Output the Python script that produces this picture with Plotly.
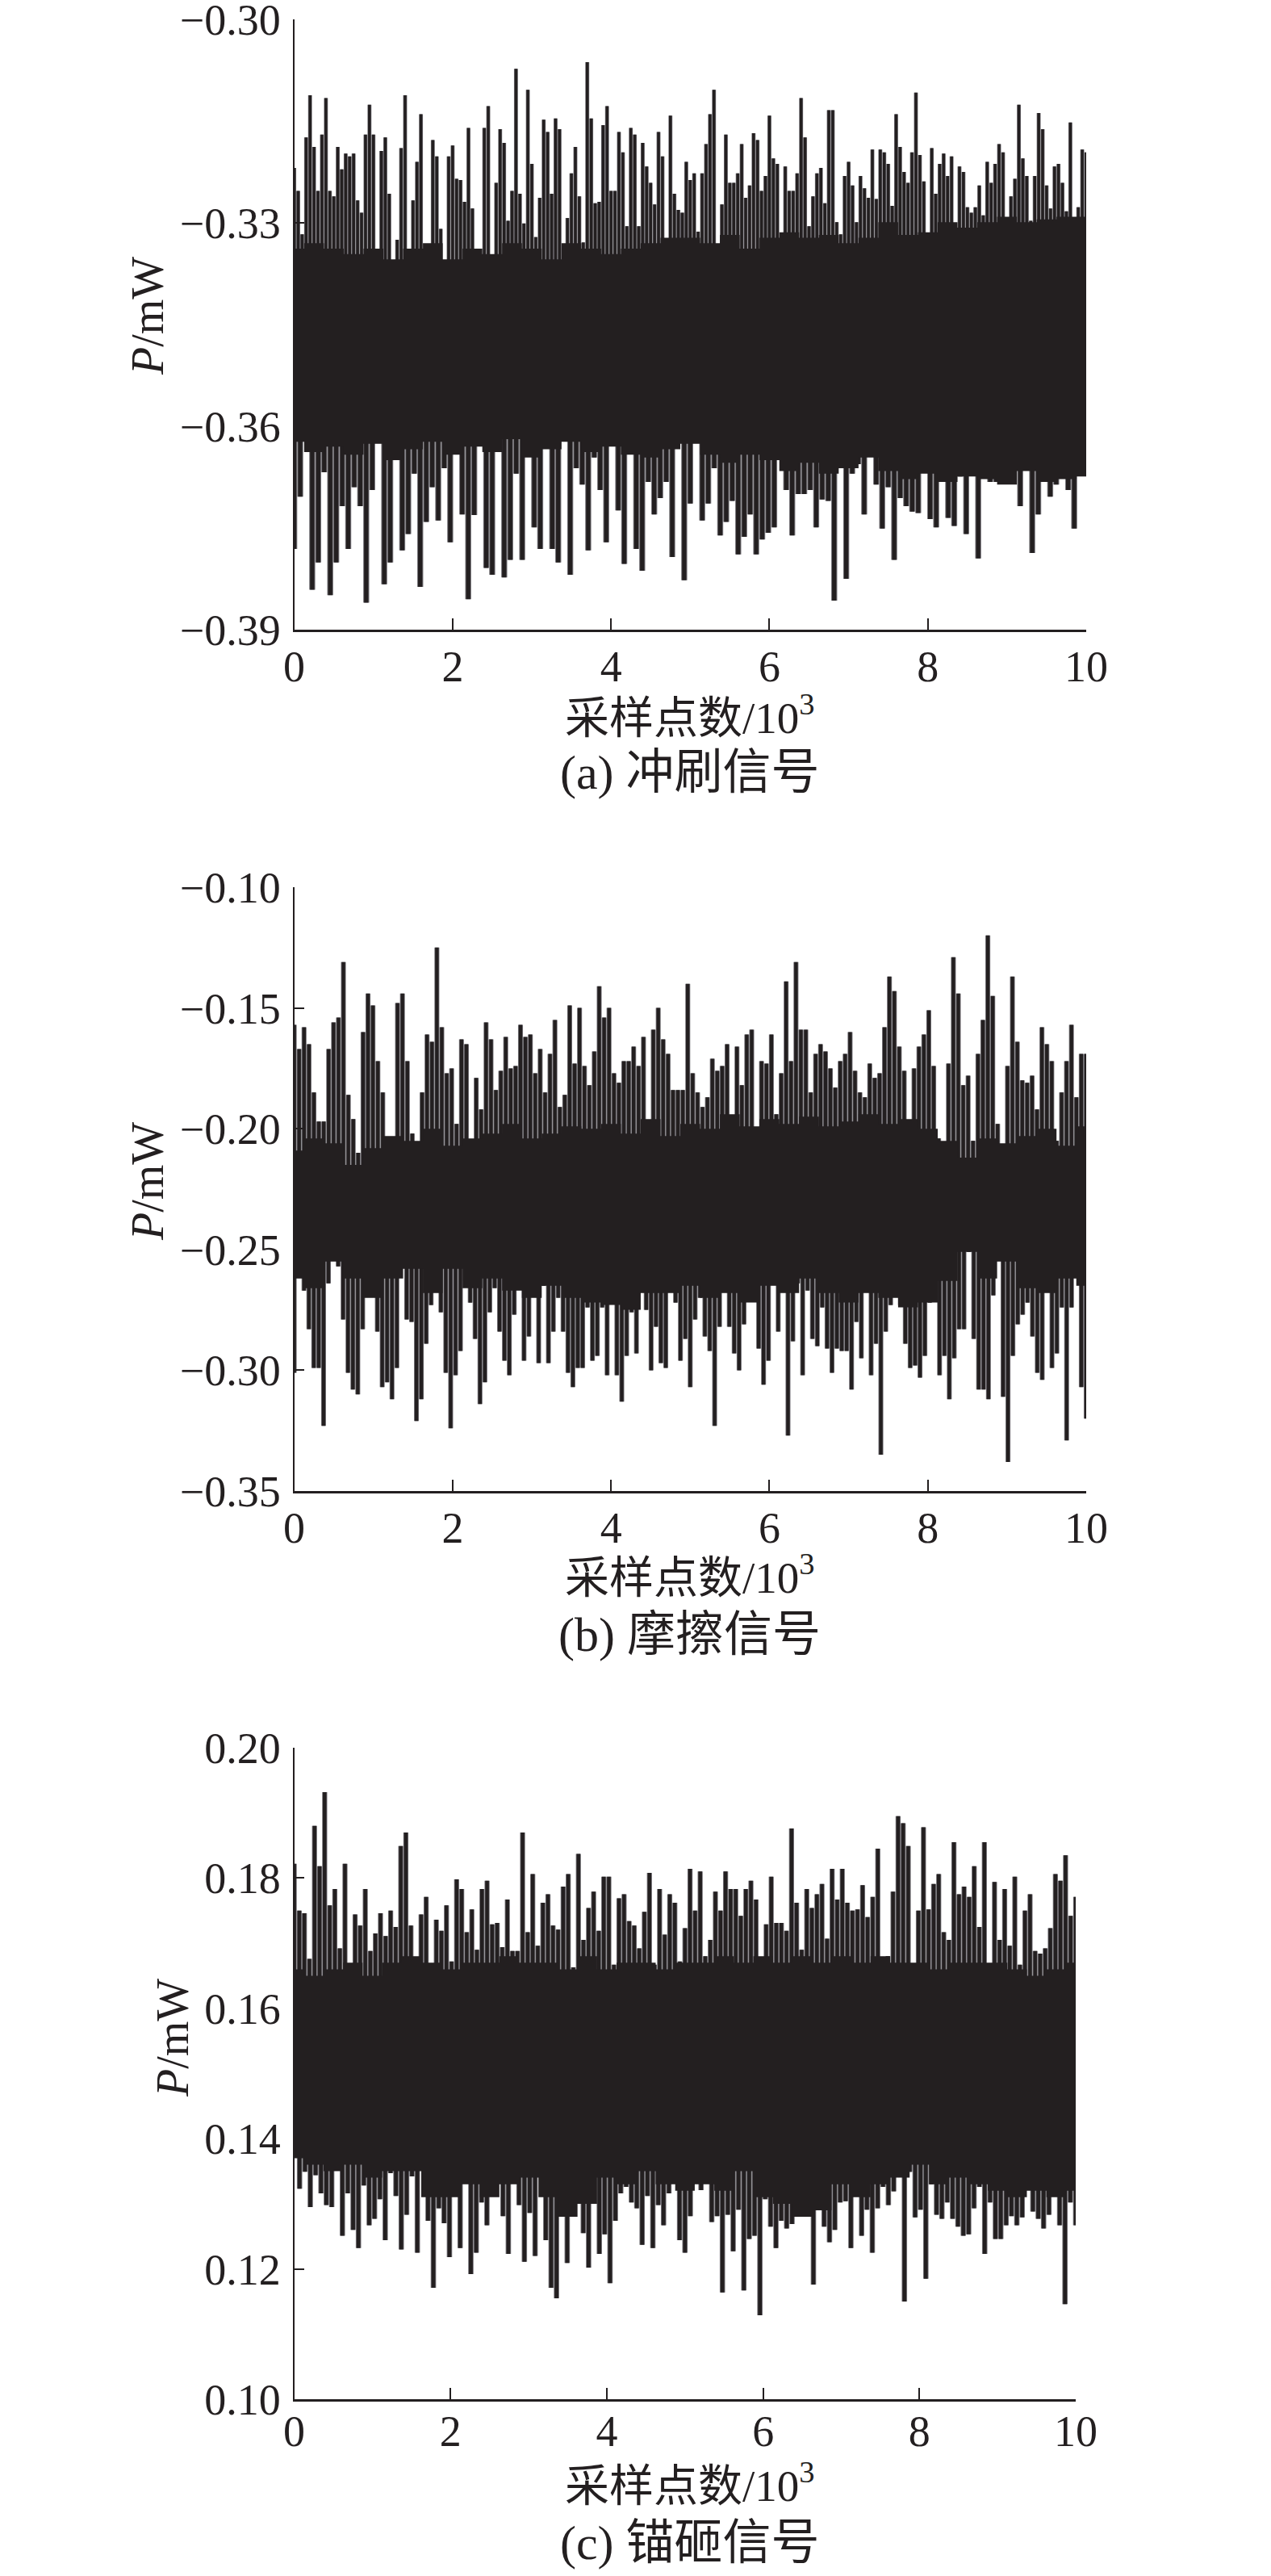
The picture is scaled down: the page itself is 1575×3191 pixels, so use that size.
import numpy as np
import plotly.graph_objects as go

# Peak readings (mW) per panel, left to right across 0-10 x 10^3 samples
a_upper = [-.3219,-.3253,-.3317,-.3174,-.3112,-.3188,-.3253,-.3170,-.3116,-.3253,-.3261,-.3188,-.3221,-.3198,-.3202,-.3198,-.3267,-.3285,-.3170,-.3126,-.3170,-.3356,-.3194,-.3174,-.3257,-.3400,-.3325,-.3190,-.3112,-.3344,-.3267,-.3210,-.3140,-.3364,-.3374,-.3178,-.3202,-.3309,-.3386,-.3202,-.3186,-.3235,-.3237,-.3269,-.3160,-.3279,-.3384,-.3356,-.3160,-.3128,-.3368,-.3241,-.3162,-.3182,-.3297,-.3253,-.3073,-.3257,-.3301,-.3104,-.3213,-.3321,-.3263,-.3148,-.3166,-.3257,-.3146,-.3162,-.3337,-.3293,-.3227,-.3188,-.3261,-.3329,-.3063,-.3146,-.3271,-.3269,-.3156,-.3128,-.3253,-.3253,-.3166,-.3196,-.3305,-.3160,-.3170,-.3305,-.3182,-.3217,-.3241,-.3273,
           -.3166,-.3202,-.3325,-.3142,-.3257,-.3281,-.3285,-.3210,-.3237,-.3227,-.3313,-.3227,-.3184,-.3140,-.3104,-.3350,-.3273,-.3170,-.3241,-.3241,-.3227,-.3184,-.3263,-.3245,-.3168,-.3178,-.3253,-.3231,-.3142,-.3205,-.3213,-.3325,-.3217,-.3253,-.3253,-.3227,-.3116,-.3174,-.3305,-.3261,-.3227,-.3219,-.3271,-.3134,-.3134,-.3299,-.3317,-.3231,-.3210,-.3245,-.3299,-.3231,-.3249,-.3263,-.3192,-.3265,-.3192,-.3196,-.3213,-.3275,-.3140,-.3188,-.3225,-.3241,-.3196,-.3108,-.3200,-.3239,-.3315,-.3190,-.3257,-.3213,-.3198,-.3231,-.3202,-.3317,-.3217,-.3225,-.3277,-.3285,-.3277,-.3245,-.3289,-.3210,-.3241,-.3213,-.3184,-.3196,-.3303,-.3261,-.3235,-.3126,-.3205,-.3231,-.3297,-.3231,-.3138,-.3162,-.3245,-.3279,-.3217,-.3213,-.3241,-.3283,-.3152,-.3299,-.3277,-.3192,-.3196]
a_lower = [-.3781,-.3704,-.3618,-.3841,-.3801,-.3668,-.3849,-.3801,-.3718,-.3781,-.3690,-.3718,-.3860,-.3694,-.3581,-.3833,-.3801,-.3636,-.3783,-.3759,-.3670,-.3837,-.3741,-.3690,-.3739,-.3662,-.3771,-.3624,-.3730,-.3855,-.3731,-.3587,-.3809,-.3819,-.3622,-.3823,-.3797,-.3670,-.3797,-.3624,-.3749,-.3781,-.3612,-.3781,-.3801,-.3618,-.3819,-.3662,-.3686,-.3783,-.3646,-.3694,-.3771,-.3583,-.3724,-.3803,-.3567,-.3781,-.3813,-.3682,-.3730,-.3706,-.3682,-.3793,-.3620,-.3827,-.3714,-.3608,-.3739,-.3714,-.3662,-.3761,-.3741,-.3710,-.3789,-.3763,-.3730,-.3789,-.3767,-.3757,-.3749,-.3559,-.3694,-.3761,-.3700,-.3700,-.3694,-.3749,-.3708,-.3710,-.3857,-.3626,-.3825,-.3670,-.3656,-.3730,-.3630,-.3686,-.3751,-.3690,-.3797,-.3706,-.3718,-.3726,-.3728,-.3634,-.3737,-.3749,-.3628,-.3735,-.3747,-.3674,-.3759,-.3654,-.3795,-.3591,-.3682,-.3682,-.3644,-.3670,-.3599,-.3718,-.3628,-.3787,-.3730,-.3658,-.3704,-.3686,-.3656,-.3694,-.3751,-.3559,-.3660]
a_core_top = [-.3338,-.3330,-.3338,-.3346,-.3338,-.3354,-.3338,-.3330,-.3354,-.3338,-.3346,-.3330,-.3338,-.3354,-.3330,-.3338,-.3346,-.3338,-.3330,-.3322,-.3322,-.3330,-.3318,-.3338,-.3322,-.3314,-.3322,-.3318,-.3330,-.3322,-.3299,-.3318,-.3314,-.3299,-.3307,-.3299,-.3291,-.3299,-.3295,-.3291,-.3291]
a_core_bottom = [-.3623,-.3638,-.3630,-.3642,-.3626,-.3650,-.3634,-.3623,-.3642,-.3630,-.3638,-.3619,-.3646,-.3634,-.3623,-.3638,-.3630,-.3642,-.3646,-.3634,-.3626,-.3642,-.3654,-.3642,-.3650,-.3666,-.3654,-.3670,-.3662,-.3646,-.3666,-.3678,-.3670,-.3682,-.3674,-.3678,-.3686,-.3666,-.3682,-.3678,-.3674]

b_upper = [-.157,-.167,-.158,-.165,-.185,-.197,-.197,-.167,-.156,-.154,-.131,-.186,-.196,-.210,-.160,-.144,-.149,-.172,-.185,-.225,-.204,-.148,-.144,-.172,-.202,-.218,-.185,-.161,-.164,-.125,-.158,-.177,-.175,-.198,-.163,-.165,-.205,-.179,-.192,-.156,-.163,-.184,-.176,-.162,-.175,-.174,-.157,-.162,-.161,-.177,-.167,-.185,-.169,-.155,-.191,-.186,-.149,-.173,-.150,-.174,-.182,-.168,-.141,-.154,-.150,-.177,-.181,-.172,-.172,-.166,-.174,-.162,-.210,-.159,-.150,-.163,-.169,-.184,-.184,-.184,-.140,-.177,-.185,-.191,-.187,-.171,-.176,-.174,-.165,-.205,-.166,-.182,-.161,-.159,-.205,-.172,-.173,-.161,-.194,-.177,-.139,-.172,-.131,-.159,-.159,-.185,-.169,-.165,-.168,-.175,-.183,-.172,-.169,-.160,-.176,-.185,-.187,-.173,-.179,-.177,-.158,-.137,-.143,-.166,-.176,-.197,-.175,-.166,-.161,-.151,-.174,-.204,-.217,-.173,-.129,-.144,-.182,-.178,-.205,-.169,-.155,-.120,-.145,-.198,-.208,-.174,-.137,-.164,-.180,-.181,-.178,-.192,-.158,-.165,-.172,-.205,-.185,-.172,-.157,-.187,-.169,-.169]
b_lower = [-.301,-.257,-.267,-.283,-.299,-.299,-.323,-.264,-.250,-.257,-.279,-.301,-.308,-.310,-.283,-.266,-.267,-.284,-.307,-.305,-.312,-.299,-.256,-.279,-.280,-.321,-.312,-.289,-.273,-.252,-.276,-.301,-.324,-.302,-.292,-.263,-.272,-.287,-.314,-.305,-.276,-.266,-.284,-.296,-.302,-.277,-.259,-.296,-.286,-.267,-.297,-.265,-.297,-.284,-.270,-.284,-.301,-.307,-.299,-.299,-.274,-.296,-.294,-.274,-.302,-.250,-.302,-.313,-.294,-.276,-.293,-.266,-.275,-.300,-.282,-.297,-.299,-.259,-.272,-.296,-.287,-.307,-.279,-.270,-.286,-.292,-.323,-.282,-.267,-.282,-.293,-.300,-.281,-.263,-.271,-.291,-.306,-.296,-.263,-.284,-.258,-.327,-.288,-.264,-.302,-.267,-.287,-.290,-.274,-.291,-.301,-.291,-.292,-.292,-.308,-.280,-.295,-.260,-.302,-.289,-.335,-.284,-.273,-.263,-.273,-.289,-.299,-.298,-.303,-.294,-.272,-.256,-.302,-.294,-.312,-.295,-.283,-.283,-.251,-.287,-.308,-.308,-.312,-.269,-.252,-.311,-.338,-.294,-.281,-.277,-.272,-.286,-.301,-.304,-.261,-.299,-.293,-.274,-.329,-.274,-.259,-.307,-.320]
b_core_top = [-.209,-.204,-.206,-.215,-.208,-.203,-.205,-.200,-.207,-.204,-.202,-.198,-.204,-.202,-.199,-.200,-.198,-.202,-.196,-.203,-.198,-.200,-.194,-.199,-.196,-.198,-.195,-.199,-.197,-.194,-.198,-.196,-.200,-.205,-.212,-.204,-.206,-.203,-.200,-.207,-.199]
b_core_bottom = [-.262,-.266,-.255,-.262,-.270,-.262,-.258,-.268,-.258,-.266,-.262,-.267,-.270,-.265,-.270,-.272,-.273,-.275,-.268,-.268,-.265,-.270,-.268,-.272,-.265,-.268,-.262,-.268,-.272,-.268,-.270,-.274,-.272,-.263,-.251,-.262,-.255,-.266,-.268,-.262,-.265]

c_upper = [.1822,.1750,.1746,.1676,.1880,.1818,.1932,.1758,.1783,.1692,.1822,.1651,.1744,.1727,.1783,.1688,.1715,.1746,.1711,.1750,.1725,.1849,.1870,.1727,.1667,.1744,.1771,.1667,.1736,.1719,.1758,.1672,.1798,.1783,.1717,.1752,.1690,.1783,.1796,.1729,.1731,.1694,.1767,.1688,.1688,.1870,.1717,.1806,.1696,.1762,.1775,.1727,.1721,.1787,.1806,.1663,.1837,.1705,.1754,.1779,.1719,.1802,.1802,.1667,.1769,.1775,.1734,.1727,.1692,.1748,.1808,.1667,.1783,.1713,.1775,.1762,.1672,.1723,.1814,.1750,.1810,.1680,.1705,.1779,.1750,.1810,.1783,.1783,.1742,.1783,.1796,.1767,.1665,.1729,.1802,.1731,.1731,.1719,.1876,.1762,.1690,.1783,.1754,.1775,.1791,.1707,.1814,.1767,.1814,.1762,.1750,.1752,.1789,.1740,.1771,.1845,.1676,.1680,.1779,.1895,.1884,.1849,.1663,.1750,.1878,.1752,.1791,.1806,.1717,.1705,.1855,.1775,.1787,.1771,.1818,.1725,.1855,.1667,.1794,.1705,.1783,.1696,.1802,.1667,.1750,.1775,.1688,.1684,.1692,.1723,.1806,.1796,.1835,.1742,.1771]
c_lower = [.1433,.1323,.1349,.1295,.1344,.1316,.1298,.1295,.1368,.1251,.1316,.1260,.1232,.1328,.1267,.1277,.1307,.1244,.1347,.1312,.1230,.1283,.1342,.1225,.1363,.1274,.1171,.1293,.1270,.1218,.1321,.1232,.1351,.1192,.1225,.1302,.1267,.1328,.1386,.1281,.1223,.1396,.1298,.1211,.1286,.1220,.1379,.1244,.1171,.1155,.1312,.1209,.1321,.1349,.1255,.1202,.1349,.1223,.1253,.1178,.1274,.1316,.1326,.1302,.1293,.1237,.1312,.1232,.1298,.1267,.1316,.1372,.1244,.1225,.1281,.1344,.1321,.1358,.1272,.1281,.1164,.1283,.1227,.1291,.1167,.1246,.1251,.1129,.1307,.1265,.1232,.1274,.1262,.1269,.1328,.1316,.1302,.1176,.1379,.1265,.1241,.1260,.1302,.1304,.1232,.1349,.1251,.1291,.1225,.1293,.1326,.1298,.1319,.1349,.1150,.1349,.1279,.1291,.1185,.1330,.1283,.1277,.1302,.1277,.1265,.1251,.1253,.1293,.1326,.1223,.1302,.1246,.1246,.1267,.1281,.1267,.1279,.1340,.1288,.1277,.1262,.1283,.1358,.1267,.1146,.1302,.1267]
c_core_top = [.166,.165,.166,.167,.165,.167,.168,.167,.166,.167,.167,.168,.167,.167,.166,.168,.166,.167,.167,.166,.167,.167,.168,.167,.168,.167,.168,.167,.168,.167,.168,.167,.167,.166,.167,.167,.167,.166,.165,.166,.167]
c_core_bottom = [.137,.136,.135,.136,.134,.135,.135,.131,.131,.133,.131,.133,.134,.131,.128,.130,.134,.133,.135,.133,.132,.133,.132,.135,.131,.130,.128,.129,.133,.131,.133,.134,.136,.133,.134,.133,.132,.131,.132,.131,.132]

x_ticks = [0, 2, 4, 6, 8, 10]
a_ticks = [-0.30, -0.33, -0.36, -0.39]
b_ticks = [-0.10, -0.15, -0.20, -0.25, -0.30, -0.35]
c_ticks = [0.20, 0.18, 0.16, 0.14, 0.12, 0.10]
x_title = "采样点数/10<sup>3</sup>"
y_title = "<i>P</i>/mW"
captions = ["(a) 冲刷信号", "(b) 摩擦信号", "(c) 锚砸信号"]

INK = "#231f20"
GREY = "#77757a"
W, H = 1575, 3191
SERIF = "Liberation Serif"
CJK = "Liberation Serif, Noto Sans CJK SC"

panels = [
    dict(up=a_upper, lo=a_lower, ct=a_core_top, cb=a_core_bottom, ticks=a_ticks, yr=(-0.39, -0.30),
         px=(364.6, 1346), py=(24, 780), ytx=183, yty=392, xty=885, capy=957, off=-4),
    dict(up=b_upper, lo=b_lower, ct=b_core_top, cb=b_core_bottom, ticks=b_ticks, yr=(-0.35, -0.10),
         px=(364.6, 1346), py=(1099, 1847), ytx=183, yty=1464, xty=1950, capy=2025, off=-4),
    dict(up=c_upper, lo=c_lower, ct=c_core_top, cb=c_core_bottom, ticks=c_ticks, yr=(0.10, 0.20),
         px=(364.6, 1333), py=(2165, 2972), ytx=214, yty=2525, xty=3075, capy=3150, off=-10),
]


def bars(values, center):
    xs = np.linspace(0, 10, len(values))
    bx, by = [], []
    for xv, yv in zip(xs, values):
        bx += [float(xv), float(xv), None]
        by += [yv, center, None]
    return bx, by


fig = go.Figure()
layout = dict(width=W, height=H, autosize=False, paper_bgcolor="white", plot_bgcolor="white",
              margin=dict(l=0, r=0, t=0, b=0, autoexpand=False), showlegend=False, annotations=[])

for i, p in enumerate(panels, start=1):
    suffix = "" if i == 1 else str(i)
    xa, ya = f"x{suffix}", f"y{suffix}"
    center = (np.mean(p["ct"]) + np.mean(p["cb"])) / 2
    span = p["px"][1] - p["px"][0]
    for color, frac in ((GREY, 1.0), (INK, 0.72)):
        for vals in (p["up"], p["lo"]):
            bx, by = bars(vals, center)
            fig.add_trace(go.Scatter(x=bx, y=by, xaxis=xa, yaxis=ya, mode="lines",
                                     line=dict(color=color, width=frac * span / (len(vals) - 1)),
                                     hoverinfo="skip"))
    core_x = np.linspace(0, 10, len(p["ct"]))
    fig.add_trace(go.Scatter(x=list(core_x) + list(core_x[::-1]), y=p["ct"] + p["cb"][::-1], xaxis=xa, yaxis=ya,
                             mode="lines", fill="toself", fillcolor=INK,
                             line=dict(color=INK, width=0, shape="hvh")))

    layout[f"xaxis{suffix}"] = dict(
        domain=[p["px"][0] / W, p["px"][1] / W], range=[0, 10], anchor=ya, tickmode="array", tickvals=x_ticks,
        ticks="inside", ticklen=14, tickwidth=1.5, tickcolor=INK, showline=True, linecolor=INK, linewidth=3,
        showgrid=False, zeroline=False, ticklabelstandoff=p["off"], ticklabeloverflow="allow",
        tickfont=dict(family=SERIF, size=54, color=INK))
    layout[f"yaxis{suffix}"] = dict(
        domain=[1 - p["py"][1] / H, 1 - p["py"][0] / H], range=list(p["yr"]), anchor=xa, tickmode="array",
        tickvals=p["ticks"], tickformat=".2f", ticks="inside", ticklen=12, tickwidth=2, tickcolor=INK,
        showline=True, linecolor=INK, linewidth=2, showgrid=False, zeroline=False, ticklabelstandoff=4,
        ticklabeloverflow="allow", tickfont=dict(family=SERIF, size=54, color=INK))
    center_x = 855 / W
    layout["annotations"] += [
        dict(text=y_title, xref="paper", yref="paper", x=p["ytx"] / W, y=1 - p["yty"] / H, showarrow=False,
             textangle=-90, xanchor="center", yanchor="middle", font=dict(family=SERIF, size=56, color=INK)),
        dict(text=x_title, xref="paper", yref="paper", x=center_x, y=1 - p["xty"] / H, showarrow=False,
             xanchor="center", yanchor="middle", font=dict(family=CJK, size=55, color=INK)),
        dict(text=captions[i - 1], xref="paper", yref="paper", x=center_x, y=1 - p["capy"] / H, showarrow=False,
             xanchor="center", yanchor="middle", font=dict(family=CJK, size=60, color=INK)),
    ]

fig.update_layout(**layout)
fig.write_html("out.html", config={"displayModeBar": False}, post_script="document.body.style.margin='0';")
